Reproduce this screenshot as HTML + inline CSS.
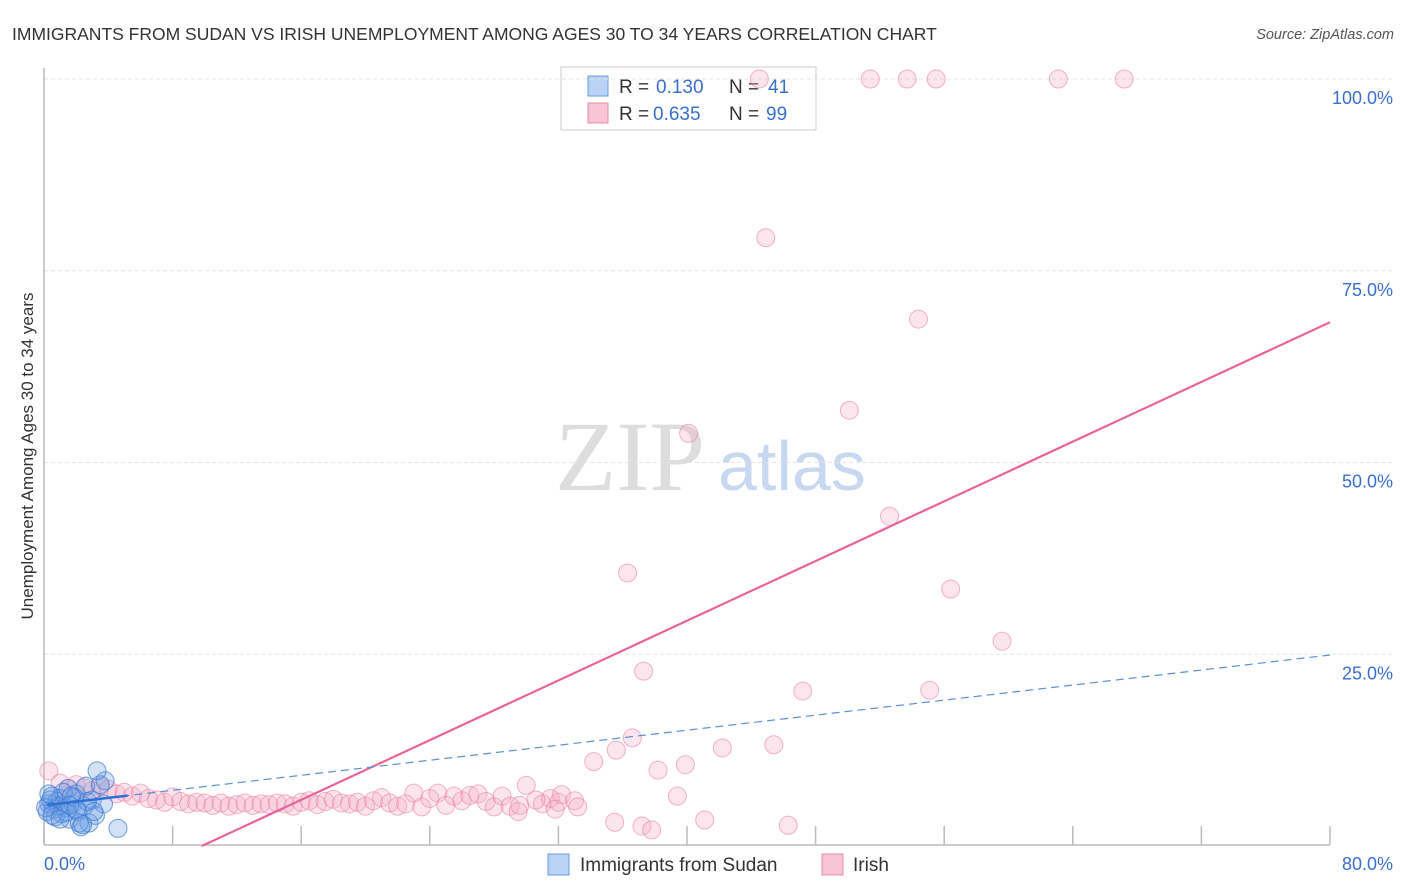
<!DOCTYPE html>
<html><head><meta charset="utf-8"><style>
body{margin:0;background:#fff;font-family:"Liberation Sans",sans-serif;}
#wrap{position:relative;width:1406px;height:892px;overflow:hidden;}
</style></head><body>
<div id="wrap">
<svg id="svg" width="1406" height="892">
<text x="12" y="40" font-size="17.5" fill="#333">IMMIGRANTS FROM SUDAN VS IRISH UNEMPLOYMENT AMONG AGES 30 TO 34 YEARS CORRELATION CHART</text>
<text x="1394" y="39" font-size="14.5" fill="#555" font-style="italic" text-anchor="end">Source: ZipAtlas.com</text>
<text x="0" y="0" transform="translate(33,456) rotate(-90)" font-size="17" fill="#333" text-anchor="middle">Unemployment Among Ages 30 to 34 years</text>
<text x="555" y="490" font-size="100" fill="#ddd" font-family="Liberation Serif,serif">ZIP</text>
<text x="718" y="490" font-size="70" fill="#c8d8f0">atlas</text>
<g>
<rect x="561" y="67" width="255" height="63" fill="#fff" stroke="#ccc"/>
<rect x="588" y="76" width="20" height="20" fill="#b9d3f5" stroke="#6a9be0"/>
<text x="619" y="93" font-size="19" fill="#333">R =</text>
<text x="656" y="93" font-size="19" fill="#3a6fd0">0.130</text>
<text x="729" y="93" font-size="19" fill="#333">N =</text>
<text x="768" y="93" font-size="19" fill="#3a6fd0">41</text>
<rect x="588" y="103" width="20" height="20" fill="#f9c4d5" stroke="#e98aab"/>
<text x="619" y="120" font-size="19" fill="#333">R =</text>
<text x="653" y="120" font-size="19" fill="#3a6fd0">0.635</text>
<text x="729" y="120" font-size="19" fill="#333">N =</text>
<text x="766" y="120" font-size="19" fill="#3a6fd0">99</text>
</g>
<g id="grid"></g><g id="marks"></g>
<g>
<rect x="548" y="854" width="21" height="21" fill="#b9d3f5" stroke="#6a9be0"/>
<text x="580" y="871" font-size="19" fill="#333">Immigrants from Sudan</text>
<rect x="822" y="854" width="21" height="21" fill="#f9c4d5" stroke="#e98aab"/>
<text x="853" y="871" font-size="19" fill="#333">Irish</text>
</g>
</svg></div>
<script>
const xTicks=[0,8,16,24,32,40,48,56,64,72,80];
const yTicks=[25,50,75,100];
const yTickLabels=["25.0%","50.0%","75.0%","100.0%"];
const pinkX=[0.3,1,1.5,2,2.5,3,3.5,4,4.5,5,5.5,6,6.5,7,7.5,8,8.5,9,9.5,10,10.5,11,11.5,12,12.5,13,13.5,14,14.5,15,15.5,16,16.5,17,17.5,18,18.5,19,19.5,20,20.5,21,21.5,22,22.5,23,23.5,24,24.5,25,25.5,26,26.5,27,27.5,28,28.5,29,29.5,30,31,31.5,32,32.2,33,44.5,51.4,53.7,55.5,63.1,67.2,44.9,54.4,50.1,40.1,52.6,36.3,56.4,59.6,37.3,47.2,55.1,36.6,35.6,42.2,45.4,34.2,38.2,39.9,39.4,37.2,35.5,37.8,41.1,46.3,31.8,30.6,29.6,33.2];
const pinkY=[9.8,8.2,7.5,8,7.6,7.2,7.8,7.4,6.8,7,6.5,6.9,6.2,6,5.7,6.4,5.8,5.5,5.7,5.6,5.3,5.6,5.2,5.4,5.6,5.3,5.5,5.4,5.6,5.5,5.2,5.7,5.9,5.4,5.8,6.1,5.6,5.5,5.7,5.2,5.9,6.3,5.6,5.2,5.5,6.9,5.1,6.2,6.9,5.3,6.5,5.9,6.6,6.8,5.8,5.1,6.5,5.2,4.5,7.9,5.5,6.2,5.7,6.7,5.9,100,100,100,100,100,100,79.3,68.7,56.8,53.8,43,35.6,33.5,26.7,22.8,20.2,20.3,14.1,12.5,12.8,13.2,11,9.9,10.6,6.5,2.6,3.1,2.1,3.4,2.7,4.8,6,5.3,5.1];
const blueX=[0.3,0.5,0.6,0.8,1,1.1,1.3,1.5,1.6,1.8,2,2.1,2.3,2.5,2.6,2.8,3,3.2,3.5,0.2,0.7,1.2,3.8,3.7,4.6,0.4,0.9,1.4,1.9,2.2,2.7,0.1,0.5,1.7,2.4,3.1,0.3,1,1.6,2,3.3];
const blueY=[5.5,6.5,4.8,5.8,6.2,4.2,5,7.5,3.5,5.5,6.8,4.5,2.5,5.2,7.8,3,6,4,8,4.5,3.8,7,8.5,5.5,2.3,6,5.2,4.4,6.3,3,5.8,5,4,6.5,2.8,4.5,6.8,3.5,5.3,4.8,9.8];
const pinkFit=[0.973,-9.55], blueFit=[0.245,5.3];
const X=v=>44+v*1286/80, Y=v=>846-v*7.67;
const NS="http://www.w3.org/2000/svg";
const grid=document.getElementById('grid'), marks=document.getElementById('marks');
function mk(tag,attrs,parent){const e=document.createElementNS(NS,tag);for(const k in attrs)e.setAttribute(k,attrs[k]);parent.appendChild(e);return e;}
yTicks.forEach((t,i)=>{
 const l=mk('line',{x1:44,x2:1394,y1:Y(t),y2:Y(t),stroke:'#e4e4e4','stroke-dasharray':'4,3'},grid);
 
 
 const tx=mk('text',{x:1393,y:Y(t)+25,'font-size':18,fill:'#3a6fd0','text-anchor':'end'},grid);
 tx.textContent=yTickLabels[i];
 
 
});
const ax=mk('line',{x1:44,x2:1330,y1:845,y2:845,stroke:'#bbb','stroke-width':1.5},grid);


const ay=mk('line',{x1:44,x2:44,y1:68,y2:845,stroke:'#bbb','stroke-width':1.5},grid);


xTicks.forEach(t=>{const l=mk('line',{x1:X(t),x2:X(t),y1:826,y2:845,stroke:'#bbb','stroke-width':1.5},grid);
 
 });
const xl0=mk('text',{x:44,y:870,'font-size':18,fill:'#3a6fd0'},grid);xl0.textContent='0.0%';


const xl1=mk('text',{x:1393,y:870,'font-size':18,fill:'#3a6fd0','text-anchor':'end'},grid);xl1.textContent='80.0%';


pinkX.forEach((x,i)=>{const c=mk('circle',{cx:X(x),cy:Y(pinkY[i]),r:9,fill:'rgba(246,170,195,0.3)',stroke:'rgba(233,130,165,0.6)','stroke-width':1},marks);
 
 });
blueX.forEach((x,i)=>{const c=mk('circle',{cx:X(x),cy:Y(blueY[i]),r:9,fill:'rgba(110,160,230,0.3)',stroke:'rgba(60,120,210,0.7)','stroke-width':1},marks);
 
 });
const x0=-pinkFit[1]/pinkFit[0];
const pl=mk('line',{x1:X(x0),y1:Y(0),x2:X(80),y2:Y(pinkFit[0]*80+pinkFit[1]),stroke:'#e8649a','stroke-width':2.2},marks);


const bl=mk('line',{x1:X(0),y1:Y(blueFit[1]),x2:X(80),y2:Y(blueFit[0]*80+blueFit[1]),stroke:'#5a8fd8','stroke-width':1.2,'stroke-dasharray':'8,5'},marks);


const bs=mk('line',{x1:X(0.2),y1:Y(blueFit[1]+0.05),x2:X(5.2),y2:Y(blueFit[0]*5.2+blueFit[1]),stroke:'#2f6fd6','stroke-width':2.5},marks);


</script>
</body></html>
